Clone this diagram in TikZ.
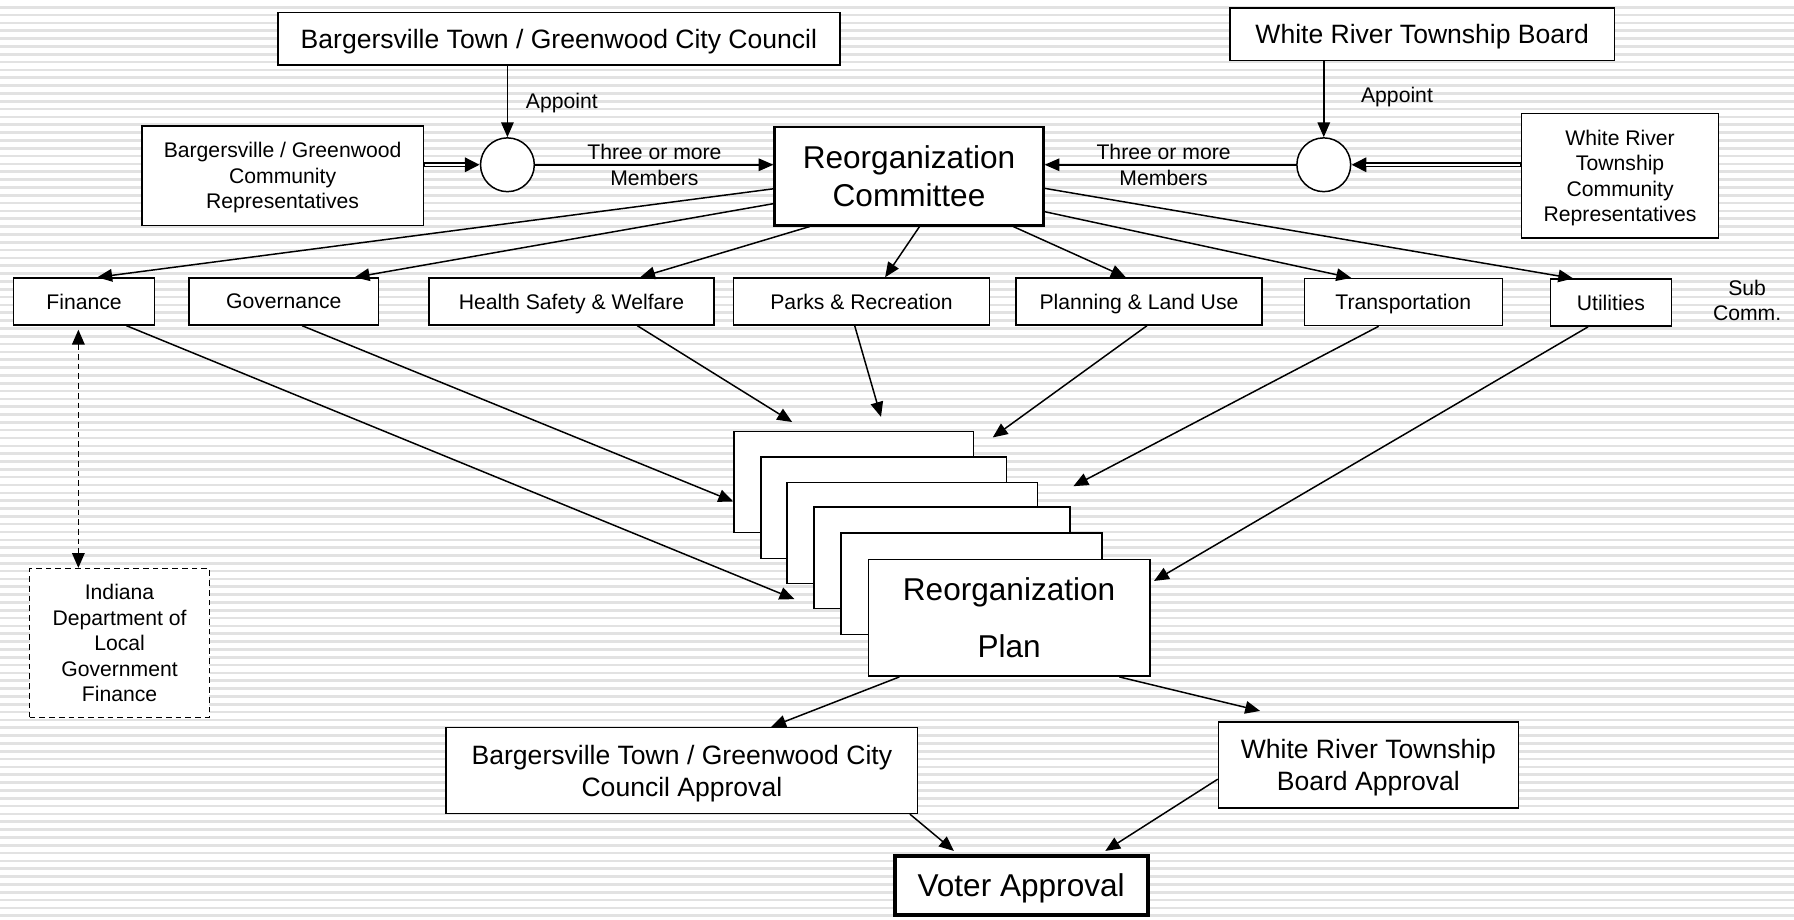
\documentclass[tikz,border=0pt]{standalone}
\usepackage{fontspec}
\setmainfont{Liberation Sans}
\usetikzlibrary{arrows.meta,calc}
\definecolor{stripecol}{RGB}{226,226,226}
\begin{document}
\begin{tikzpicture}[x=1pt,y=-1pt,
  box/.style={draw, line width=1.3pt, fill=white, inner sep=0pt, align=center, rectangle, text depth=0pt},
  smallf/.style={font=\fontsize{18.5}{22.3}\selectfont, align=center, text depth=0pt},
  medf/.style={font=\fontsize{23.2}{28}\selectfont, align=center, text depth=0pt},
  bigf/.style={font=\fontsize{27.6}{33}\selectfont, align=center, text depth=0pt},
  conn/.style={line width=1.3pt, -{Triangle[length=13pt,width=11pt]}},
  dconn/.style={line width=1.3pt, dash pattern=on 5pt off 3.5pt, {Triangle[length=13pt,width=11pt]}-{Triangle[length=13pt,width=11pt]}},
  subbox/.style={box, smallf, minimum height=41pt}
]
\useasboundingbox (0,0) rectangle (1568,804);
\fill[white] (0,0) rectangle (1568,804);
\foreach \i in {0,...,117} {
  \fill[stripecol] (0,{5.2+\i*6.845}) rectangle (1568,{5.2+\i*6.845+2.3});
}

% top row
\node[box, medf, minimum width=491pt, minimum height=46pt] (btgc) at (488.5,34) {Bargersville Town / Greenwood City Council};
\node[box, medf, minimum width=336pt, minimum height=46pt] (wrtb) at (1243,30) {White River Township Board};
\node[circle, draw, fill=white, line width=1.3pt, minimum size=47pt, inner sep=0pt] (c1) at (443.5,144) {};
\node[circle, draw, fill=white, line width=1.3pt, minimum size=47pt, inner sep=0pt] (c2) at (1157,144) {};
\node[box, smallf, minimum width=246pt, minimum height=87pt] (bgrep) at (247,153.5) {Bargersville / Greenwood\\Community\\Representatives};
\node[box, smallf, minimum width=172pt, minimum height=109pt] (wrrep) at (1416,153.5) {White River\\Township\\Community\\Representatives};
\node[box, bigf, line width=2pt, minimum width=235pt, minimum height=86pt] (com) at (794.5,154) {Reorganization\\Committee};

\node[smallf] (ap1) at (491,88) {Appoint};
\node[smallf] (ap2) at (1221,83) {Appoint};
\node[smallf] (tm1) at (572,144) {Three or more\\Members};
\node[smallf] (tm2) at (1017,144) {Three or more\\Members};

% sub committees
\node[subbox, minimum width=123pt] (fin) at (73.5,263.5) {Finance};
\node[subbox, minimum width=166pt] (gov) at (248,263.5) {Governance};
\node[subbox, minimum width=249pt] (hsw) at (499.5,263.5) {Health Safety \& Welfare};
\node[subbox, minimum width=224pt] (prk) at (753,263.5) {Parks \& Recreation};
\node[subbox, minimum width=215pt] (pln) at (995.5,263.5) {Planning \& Land Use};
\node[subbox, minimum width=173pt] (trn) at (1226.5,264) {Transportation};
\node[subbox, minimum width=106pt] (utl) at (1408,264.5) {Utilities};
\node[smallf] (subc) at (1527,262.5) {Sub\\Comm.};

% plan stack
\node[box, minimum width=209.5pt, minimum height=88.6pt] (p1) at (746.25,421.3) {};
\node[box, minimum width=214.6pt, minimum height=88.4pt] (p2) at (772.3,443.8) {};
\node[box, minimum width=219pt, minimum height=88.4pt] (p3) at (797.5,465.8) {};
\node[box, minimum width=223.4pt, minimum height=89pt] (p4) at (823.3,487.5) {};
\node[box, minimum width=228pt, minimum height=88.7pt] (p5) at (849,510.35) {};
\node[box, font=\fontsize{27.6}{50}\selectfont, minimum width=246pt, minimum height=102pt] (p6) at (882,540) {Reorganization\\Plan};

% IDLGF
\node[box, smallf, dash pattern=on 5pt off 3.5pt, minimum width=157pt, minimum height=130pt] (idlgf) at (104.5,562) {Indiana\\Department of\\Local\\Government\\Finance};

% approvals
\node[box, medf, minimum width=412pt, minimum height=75pt] (btgca) at (596,673.4) {Bargersville Town / Greenwood City\\Council Approval};
\node[box, medf, minimum width=262pt, minimum height=75pt] (wrta) at (1196,668.5) {White River Township\\Board Approval};
\node[box, bigf, line width=3.5pt, minimum width=221pt, minimum height=51pt, text height=19.8pt] (voter) at (892.5,774) {Voter Approval};

% appoint arrows
\draw[conn] (c1.north |- btgc.south) -- (c1.north);
\draw[conn] (c2.north |- wrtb.south) -- (c2.north);
% double arrows
\draw[line width=4pt, -{Triangle[length=13pt,width=12pt]}] (bgrep.east |- c1.center) -- (c1.west);
\draw[white, line width=1.6pt, shorten >=13pt, shorten <=0.8pt] (bgrep.east |- c1.center) -- (c1.west);
\draw[line width=4pt, -{Triangle[length=13pt,width=12pt]}] (wrrep.west |- c2.center) -- (c2.east);
\draw[white, line width=1.6pt, shorten >=13pt, shorten <=0.8pt] (wrrep.west |- c2.center) -- (c2.east);
% members
\draw[conn] (c1.east) -- (c1.east -| com.west);
\draw[conn] (c2.west) -- (c2.west -| com.east);

% committee to subcommittees
\draw[conn] ($(com.west)+(0,11)$) -- ($(fin.north)+(11.5,0)$);
\draw[conn] ($(com.west)+(0,24)$) -- ($(gov.north)+(62,0)$);
\draw[conn] ($(com.south)+(-86.8,0)$) -- ($(hsw.north)+(60,0)$);
\draw[conn] ($(com.south)+(9.2,0)$) -- ($(prk.north)+(20.6,0)$);
\draw[conn] ($(com.south)+(91.1,0)$) -- ($(pln.north)+(-11.5,0)$);
\draw[conn] ($(com.east)+(0,31)$) -- ($(trn.north)+(-45.5,0)$);
\draw[conn] ($(com.east)+(0,10.6)$) -- ($(utl.north)+(-33,0)$);

% subcommittees to plan
\draw[conn] ($(fin.south)+(37,0)$) -- ($(p3.south west)+(7,13)$);
\draw[conn] ($(gov.south)+(16,0)$) -- ($(p1.west)+(0,17)$);
\draw[conn] ($(hsw.south)+(57.5,0)$) -- ($(p1.north west)+(51.5,-7.5)$);
\draw[conn] ($(prk.south)+(-6,0)$) -- ($(p1.north)+(23.75,-12)$);
\draw[conn] ($(pln.south)+(7,0)$) -- ($(p1.north east)+(16,6)$);
\draw[conn] ($(trn.south)+(-21.5,0)$) -- ($(p3.north east)+(30.5,4)$);
\draw[conn] ($(utl.south)+(-20,0)$) -- ($(p6.north east)+(3,19.4)$);

% dashed
\draw[dconn] ($(fin.south)+(-5,3.5)$) -- ($(idlgf.north)+(-36,0)$);

% plan to approvals
\draw[conn] ($(p6.south west)+(27.7,0)$) -- ($(btgca.north)+(78,0)$);
\draw[conn] ($(p6.south east)+(-27.3,0)$) -- ($(wrta.north west)+(37,-9)$);
\draw[conn] ($(btgca.south east)+(-7.4,0)$) -- ($(voter.north)+(-58.7,-3)$);
\draw[conn] ($(wrta.west)+(0,12.5)$) -- ($(voter.north)+(73.5,-3)$);
\end{tikzpicture}
\end{document}
